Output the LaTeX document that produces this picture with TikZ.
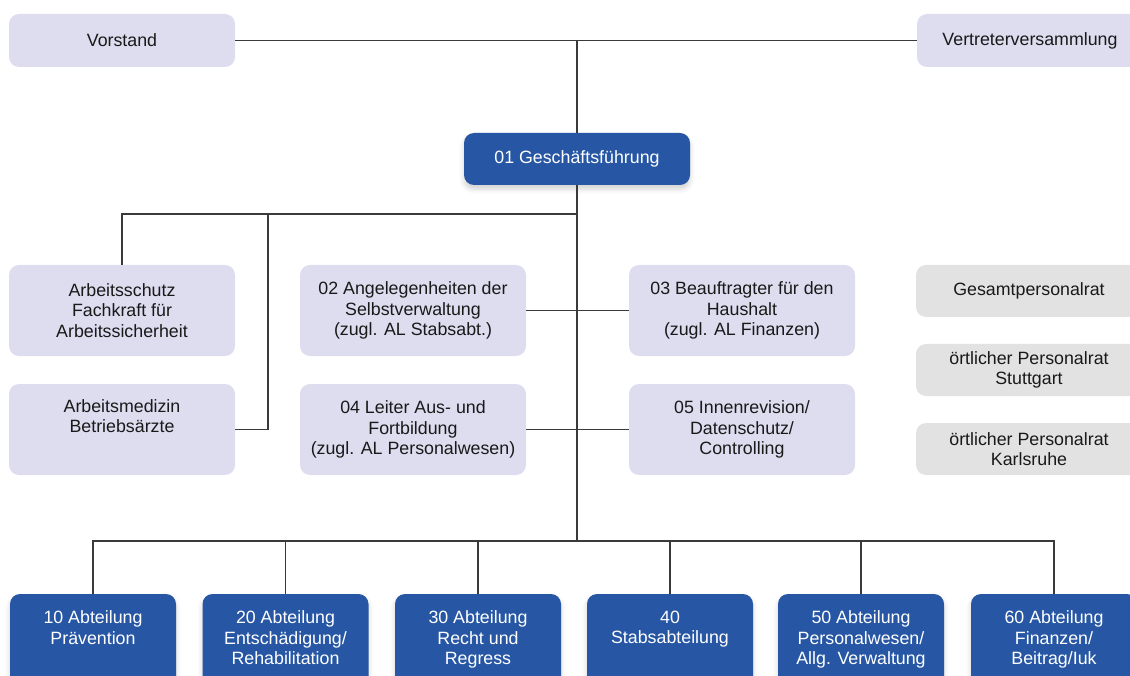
\documentclass[tikz,border=0pt]{standalone}
\usepackage{fontspec}
\setmainfont{Liberation Sans}
\usetikzlibrary{shadows.blur}
\definecolor{lav}{HTML}{DEDCEF}
\definecolor{grayb}{HTML}{E2E2E2}
\definecolor{navy}{HTML}{2757A4}
\definecolor{ln}{HTML}{3A3A3A}
\begin{document}
\begin{tikzpicture}[x=1pt,y=-1pt,
  every node/.style={font=\fontsize{17.8}{20.2}\selectfont, align=center},
  lbox/.style={fill=lav, rounded corners=10pt, minimum width=226pt, inner sep=0pt, text=black!90},
  gbox/.style={fill=grayb, rounded corners=10pt, minimum width=226pt, minimum height=52pt, inner sep=0pt, text=black!90},
  bbox/.style={fill=navy, rounded corners=10pt, minimum width=166pt, minimum height=110pt, inner sep=0pt,
    blur shadow={shadow xshift=0pt, shadow yshift=-4pt, shadow opacity=18, shadow blur radius=5pt}},
  btext/.style={text=white, anchor=north, inner sep=0pt},
  conn/.style={draw=ln, line width=1.1pt}]
\useasboundingbox (0,0) rectangle (1130,676);
\clip (0,0) rectangle (1130,676);

% top
\node[lbox, minimum height=53pt] (vor) at (122,40.5) {Vorstand};
\node[lbox, minimum height=53pt] (ver) at (1030,40.5) {Vertreterversammlung};
\node[bbox, minimum width=226pt, minimum height=52pt, text=white] (gf) at (577,159) {01 Geschäftsführung};

% staff rows
\node[lbox, minimum height=91pt] (as) at (122,310.5) {Arbeitsschutz\\Fachkraft für\\Arbeitssicherheit};
\node[lbox, minimum height=91pt] (am) at (122,429.5) {Arbeitsmedizin\\Betriebsärzte\\\strut};
\node[lbox, minimum height=91pt] (a02) at (413,310.5) {02 Angelegenheiten der\\Selbstverwaltung\\(zugl. AL Stabsabt.)};
\node[lbox, minimum height=91pt] (a04) at (413,429.5) {04 Leiter Aus- und\\Fortbildung\\(zugl. AL Personalwesen)};
\node[lbox, minimum height=91pt] (a03) at (742,310.5) {03 Beauftragter für den\\Haushalt\\(zugl. AL Finanzen)};
\node[lbox, minimum height=91pt] (a05) at (742,429.5) {05 Innenrevision/\\Datenschutz/\\Controlling};

% personnel councils
\node[gbox] (gpr) at (1029,291) {Gesamtpersonalrat};
\node[gbox] (ops) at (1029,370) {örtlicher Personalrat\\Stuttgart};
\node[gbox] (opk) at (1029,449) {örtlicher Personalrat\\Karlsruhe};

% departments
\node[bbox] (b10) at (93,649) {};
\node[bbox] (b20) at (285.5,649) {};
\node[bbox] (b30) at (478,649) {};
\node[bbox] (b40) at (670,649) {};
\node[bbox] (b50) at (861,649) {};
\node[bbox] (b60) at (1054,649) {};
\node[btext] (t10) at ([yshift=-17pt]b10.north) {10 Abteilung\\Prävention};
\node[btext] (t20) at ([yshift=-17pt]b20.north) {20 Abteilung\\Entschädigung/\\Rehabilitation};
\node[btext] (t30) at ([yshift=-17pt]b30.north) {30 Abteilung\\Recht und\\Regress};
\node[btext] (t40) at ([yshift=-17pt]b40.north) {40\\Stabsabteilung};
\node[btext] (t50) at ([yshift=-17pt]b50.north) {50 Abteilung\\Personalwesen/\\Allg. Verwaltung};
\node[btext] (t60) at ([yshift=-17pt]b60.north) {60 Abteilung\\Finanzen/\\Beitrag/Iuk};

% connectors
\coordinate (j0) at (gf.north |- vor.east);
\coordinate (j1) at (577,214);
\coordinate (j2) at (268,214);
\coordinate (jb) at (577,541);
\draw[conn] (vor.east) -- (ver.west);
\draw[conn] (j0) -- (gf.north);
\draw[conn] (gf.south) -- (jb);
\draw[conn] (j1) -| (as.north);
\draw[conn] (j2) |- (am.east);
\draw[conn] (a02.east) -- (a03.west);
\draw[conn] (a04.east) -- (a05.west);
\draw[conn] (b10.north) -- (b10.north |- jb) -- (b60.north |- jb) -- (b60.north);
\draw[conn] (b20.north) -- (b20.north |- jb);
\draw[conn] (b30.north) -- (b30.north |- jb);
\draw[conn] (b40.north) -- (b40.north |- jb);
\draw[conn] (b50.north) -- (b50.north |- jb);
\end{tikzpicture}
\end{document}
